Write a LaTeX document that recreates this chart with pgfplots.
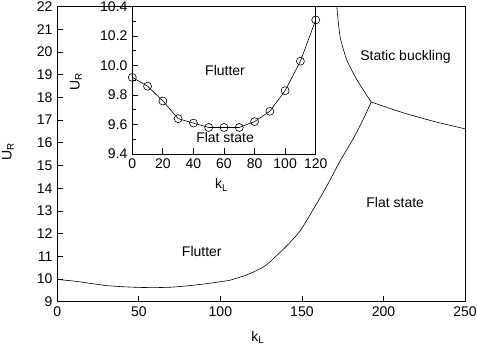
\documentclass[border=0pt]{standalone}
\usepackage{fontspec}
\setmainfont{Liberation Sans}
\usepackage{pgfplots}
\pgfplotsset{compat=1.18}
\begin{document}
\fontsize{14}{16}\selectfont
\begin{tikzpicture}
\path[use as bounding box] (-57.3pt,-50.3pt) rectangle (419.7pt,301.7pt);
\begin{axis}[
  at={(0pt,0pt)}, anchor=south west,
  scale only axis, width=407.7pt, height=295pt,
  xmin=0, xmax=250, ymin=9, ymax=22,
  xtick={0,50,...,250}, ytick={9,10,...,22},
  tick pos=left, tick align=inside, major tick length=6pt,
  /pgf/number format/assume math mode=true,
  ticklabel style={font=\fontsize{14}{16}\selectfont},
  axis line style={line width=0.8pt},
  every tick/.style={line width=0.8pt},
  xlabel={k\textsubscript{L}}, ylabel={U\textsubscript{R}},
  xlabel style={at={(axis description cs:0.492,-0.12)}, anchor=center},
  ylabel style={at={(axis description cs:-0.121,0.507)}, anchor=center, rotate=0},
]
\addplot[black, line width=0.6pt, smooth, tension=0.3] coordinates {
(0,9.98) (10,9.91) (20,9.81) (30,9.71) (40,9.66) (50,9.63) (60,9.62) (70,9.64) (80,9.70) (90,9.78) (100,9.88) (106,9.95) (115,10.15) (120,10.3) (126.4,10.53) (130.5,10.76) (140.7,11.46) (148.9,12.12) (157,13.07) (165.3,14.1) (173,15.15) (181.6,16.2) (187,16.95) (192.5,17.8)
};
\addplot[black, line width=0.6pt, smooth, tension=0.4] coordinates {
(192.5,17.8) (183.7,18.78) (177.5,19.66) (173.4,20.68) (171.4,22)
};
\addplot[black, line width=0.6pt, smooth, tension=0.4] coordinates {
(192.5,17.8) (212.3,17.32) (232.8,16.91) (250,16.62)
};
\node at (axis cs:213.5,19.8) {Static buckling};
\node at (axis cs:207.2,13.37) {Flat state};
\node at (axis cs:88.6,11.21) {Flutter};
\end{axis}
\begin{axis}[
  at={(75pt,147.7pt)}, anchor=south west,
  scale only axis, width=183.4pt, height=147.3pt,
  xmin=0, xmax=120, ymin=9.4, ymax=10.4,
  xtick={0,20,...,120}, ytick={9.4,9.6,...,10.4},
  minor y tick num=1,
  tick pos=left, tick align=inside, major tick length=6pt, minor tick length=4pt,
  /pgf/number format/assume math mode=true,
  ticklabel style={font=\fontsize{14}{16}\selectfont},
  yticklabel style={/pgf/number format/fixed, /pgf/number format/fixed zerofill, /pgf/number format/precision=1},
  axis background/.style={fill=white},
  axis line style={line width=0.8pt},
  every tick/.style={line width=0.8pt},
  xlabel={k\textsubscript{L}}, ylabel={U\textsubscript{R}},
  xlabel style={at={(axis description cs:0.4875,-0.21)}, anchor=center},
  ylabel style={at={(axis description cs:-0.307,0.489)}, anchor=center},
]
\addplot[black, line width=0.6pt, mark=o, mark size=4pt, mark options={line width=0.6pt}] coordinates {
(0,9.92) (10,9.86) (20,9.76) (30,9.64) (40,9.61) (50,9.58) (60,9.58) (70,9.58) (80,9.62) (90,9.69) (100,9.83) (110,10.03) (120,10.31)
};
\node at (axis cs:60.7,9.97) {Flutter};
\node at (axis cs:60.7,9.51) {Flat state};
\end{axis}
\end{tikzpicture}
\end{document}
